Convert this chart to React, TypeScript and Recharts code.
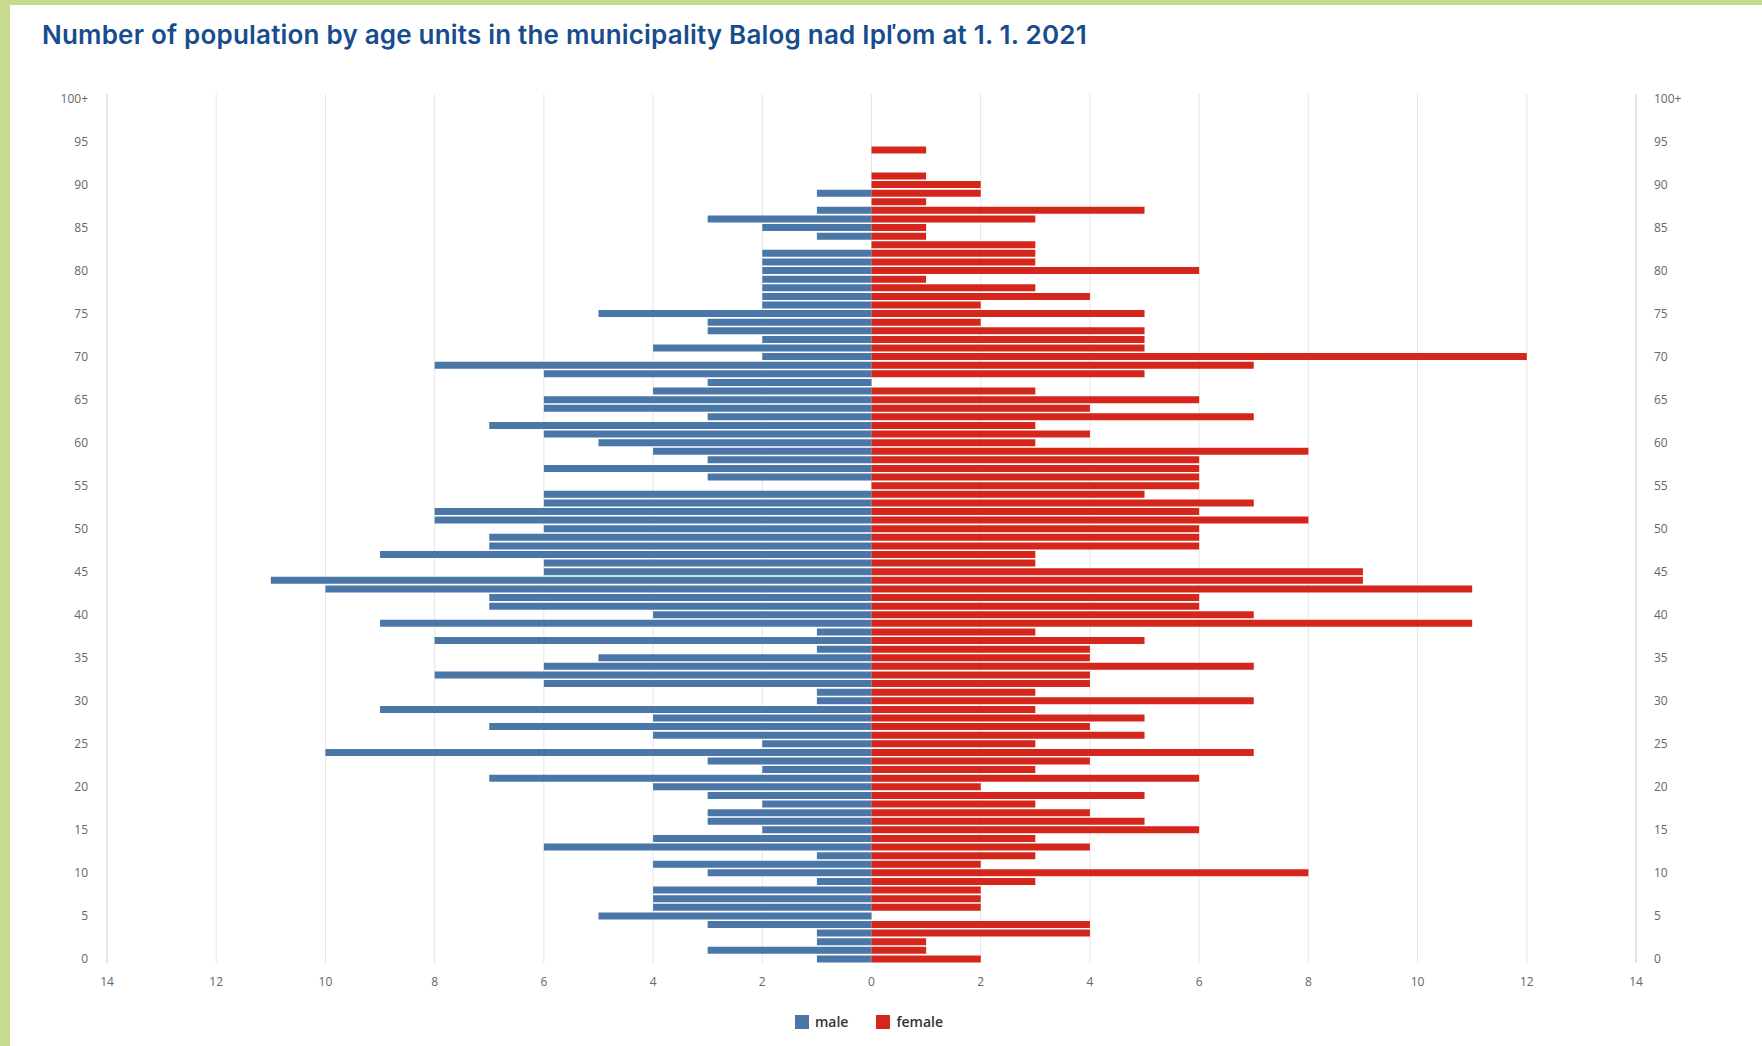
import React from "react"
import {
  Bar,
  BarChart,
  XAxis,
  YAxis,
  CartesianGrid,
  Legend,
} from "recharts"

// ages 0 .. 100+
const ageLabels = [
  "0", "1", "2", "3", "4", "5", "6", "7", "8", "9",
  "10", "11", "12", "13", "14", "15", "16", "17", "18", "19",
  "20", "21", "22", "23", "24", "25", "26", "27", "28", "29",
  "30", "31", "32", "33", "34", "35", "36", "37", "38", "39",
  "40", "41", "42", "43", "44", "45", "46", "47", "48", "49",
  "50", "51", "52", "53", "54", "55", "56", "57", "58", "59",
  "60", "61", "62", "63", "64", "65", "66", "67", "68", "69",
  "70", "71", "72", "73", "74", "75", "76", "77", "78", "79",
  "80", "81", "82", "83", "84", "85", "86", "87", "88", "89",
  "90", "91", "92", "93", "94", "95", "96", "97", "98", "99",
  "100+",
]

const male = [
  1, 3, 1, 1, 3, 5, 4, 4, 4, 1,
  3, 4, 1, 6, 4, 2, 3, 3, 2, 3,
  4, 7, 2, 3, 10, 2, 4, 7, 4, 9,
  1, 1, 6, 8, 6, 5, 1, 8, 1, 9,
  4, 7, 7, 10, 11, 6, 6, 9, 7, 7,
  6, 8, 8, 6, 6, 0, 3, 6, 3, 4,
  5, 6, 7, 3, 6, 6, 4, 3, 6, 8,
  2, 4, 2, 3, 3, 5, 2, 2, 2, 2,
  2, 2, 2, 0, 1, 2, 3, 1, 0, 1,
  0, 0, 0, 0, 0, 0, 0, 0, 0, 0,
  0,
]

const female = [
  2, 1, 1, 4, 4, 0, 2, 2, 2, 3,
  8, 2, 3, 4, 3, 6, 5, 4, 3, 5,
  2, 6, 3, 4, 7, 3, 5, 4, 5, 3,
  7, 3, 4, 4, 7, 4, 4, 5, 3, 11,
  7, 6, 6, 11, 9, 9, 3, 3, 6, 6,
  6, 8, 6, 7, 5, 6, 6, 6, 6, 8,
  3, 4, 3, 7, 4, 6, 3, 0, 5, 7,
  12, 5, 5, 5, 2, 5, 2, 4, 3, 1,
  6, 3, 3, 3, 1, 1, 3, 5, 1, 2,
  2, 1, 0, 0, 1, 0, 0, 0, 0, 0,
  0,
]

const xTicks = [-14, -12, -10, -8, -6, -4, -2, 0, 2, 4, 6, 8, 10, 12, 14]

const data = ageLabels.map((age, i) => ({
  age,
  male: -male[i],
  female: female[i],
}))

const MALE_COLOR = "#4a77a8"
const FEMALE_COLOR = "#d5261b"
const tickStyle = { fill: "#666666", fontSize: 12, fontFamily: "'Open Sans', sans-serif" }

function LegendContent() {
  const item = (color: string, label: string) => (
    <span style={{ display: "inline-flex", alignItems: "center", margin: "0 14px" }}>
      <span style={{ width: 14, height: 14, background: color, display: "inline-block", marginRight: 6 }} />
      <span style={{ fontSize: 14, fontWeight: 600, color: "#333333", fontFamily: "'Open Sans', sans-serif" }}>{label}</span>
    </span>
  )
  return (
    <div style={{ textAlign: "center", height: 20, lineHeight: "20px", paddingRight: 24 }}>
      {item(MALE_COLOR, "male")}
      {item(FEMALE_COLOR, "female")}
    </div>
  )
}

export default function App() {
  return (
    <div style={{ position: "absolute", left: 0, top: 0, width: 1762, height: 1046, background: "#c6dc8c", overflow: "hidden" }}>
      <div style={{ position: "absolute", left: 10, top: 5, right: 0, bottom: 0, background: "#ffffff" }} />
      <div
        style={{
          position: "absolute",
          left: 42,
          top: 22,
          fontFamily: "Inter, sans-serif",
          fontWeight: 600,
          fontSize: 26,
          lineHeight: "26px",
          letterSpacing: 0.2,
          color: "#174d8c",
          whiteSpace: "nowrap",
        }}
      >
        Number of population by age units in the municipality Balog nad Ipľom at 1. 1. 2021
      </div>
      <div style={{ position: "absolute", left: 0, top: 0 }}>
        <BarChart
          width={1762}
          height={1046}
          data={data}
          layout="vertical"
          stackOffset="sign"
          barCategoryGap={0}
          margin={{ top: 94, right: 0, bottom: 14, left: 0 }}
        >
          <CartesianGrid horizontal={false} stroke="#e6e6e6" verticalValues={xTicks} />
          <XAxis
            type="number"
            domain={[-14, 14]}
            ticks={xTicks}
            tickFormatter={(v: number) => String(Math.abs(v))}
            axisLine={false}
            tickLine={false}
            tickSize={0}
            tickMargin={14}
            height={49}
            tick={tickStyle}
            interval={0}
          />
          <YAxis
            yAxisId="left"
            type="category"
            dataKey="age"
            reversed
            width={107}
            interval={4}
            axisLine={{ stroke: "#ccd6eb" }}
            tickLine={false}
            tickSize={0}
            tickMargin={19}
            tick={tickStyle}
          />
          <YAxis
            yAxisId="right"
            orientation="right"
            type="category"
            dataKey="age"
            reversed
            width={126}
            interval={4}
            axisLine={{ stroke: "#ccd6eb" }}
            tickLine={false}
            tickSize={0}
            tickMargin={18}
            tick={tickStyle}
          />
          <Legend verticalAlign="bottom" height={20} content={() => <LegendContent />} />
          <Bar yAxisId="left" dataKey="male" name="male" stackId="pop" fill={MALE_COLOR} barSize={7} isAnimationActive={false} />
          <Bar yAxisId="left" dataKey="female" name="female" stackId="pop" fill={FEMALE_COLOR} barSize={7} isAnimationActive={false} />
        </BarChart>
      </div>
    </div>
  )
}
